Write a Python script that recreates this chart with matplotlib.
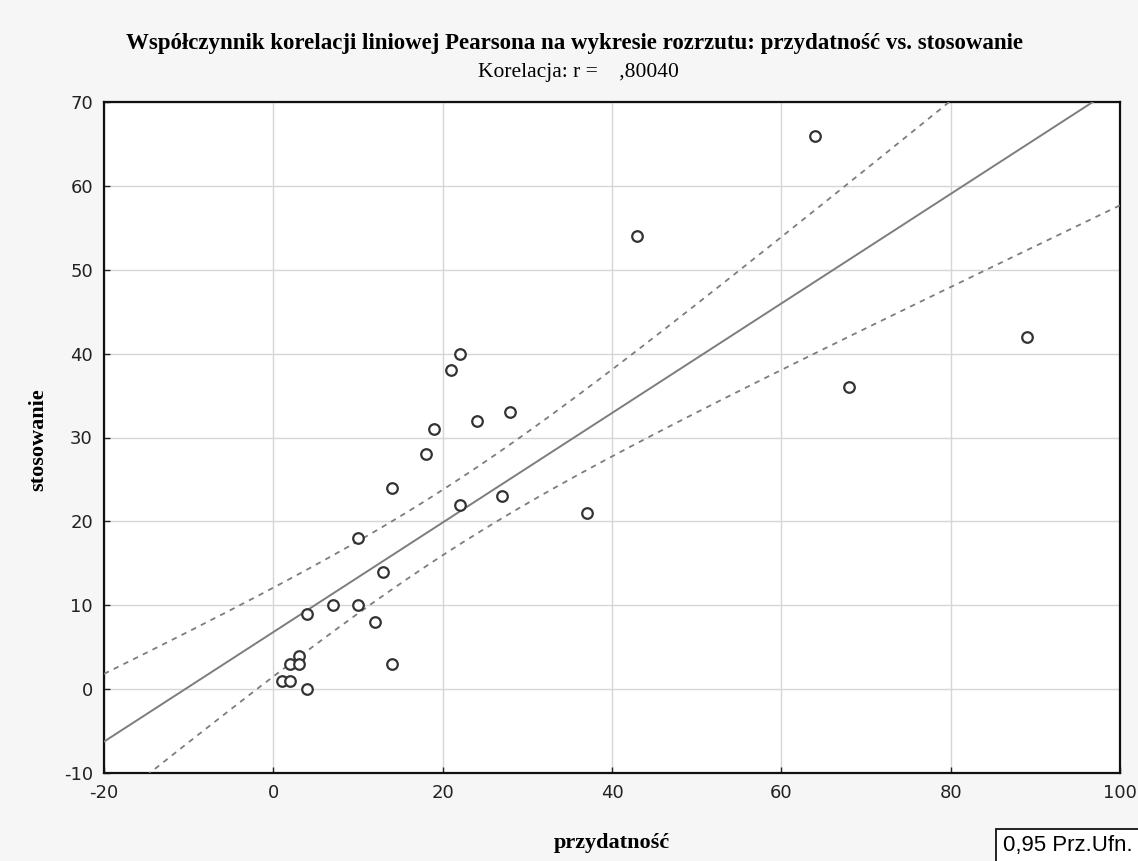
import numpy as np
import matplotlib
matplotlib.use("Agg")
import matplotlib.pyplot as plt
from matplotlib.patches import Rectangle

plt.rcParams["axes.unicode_minus"] = False

# Data
przydatnosc = [64, 43, 89, 68, 22, 21, 19, 28, 24, 18, 14, 27, 22, 37, 10,
               13, 7, 10, 4, 12, 14, 3, 2, 3, 1, 2, 4]
stosowanie = [66, 54, 42, 36, 40, 38, 31, 33, 32, 28, 24, 23, 22, 21, 18,
              14, 10, 10, 9, 8, 3, 4, 3, 3, 1, 1, 0]
x_ticks = [-20, 0, 20, 40, 60, 80, 100]
y_ticks = [-10, 0, 10, 20, 30, 40, 50, 60, 70]
title = "Współczynnik korelacji liniowej Pearsona na wykresie rozrzutu: przydatność vs. stosowanie"
subtitle = "Korelacja: r =    ,80040"
xlabel = "przydatność"
ylabel = "stosowanie"
legend_text = "0,95 Prz.Ufn."

# Regression line and 0.95 confidence band
reg_intercept = 6.8
reg_slope = 0.653
band_center_x = 20.5
band_min_halfwidth = 3.9
band_growth = 0.0305

xx = np.linspace(-20, 100, 400)
yy = reg_intercept + reg_slope * xx
half = np.sqrt(band_min_halfwidth ** 2 + band_growth * (xx - band_center_x) ** 2)
upper = yy + half
lower = yy - half

W, H = 1138, 861
fig = plt.figure(figsize=(W / 100, H / 100), dpi=100)
fig.patch.set_facecolor("#f6f6f6")
ax = fig.add_axes([104 / W, 1 - 773 / H, (1120 - 104) / W, (773 - 102) / H])
ax.set_facecolor("white")

line_col = "#7d7d7d"
ax.plot(xx, yy, color=line_col, lw=1.4, zorder=3)
ax.plot(xx, upper, color=line_col, lw=1.3, ls=(0, (3, 3)), zorder=3)
ax.plot(xx, lower, color=line_col, lw=1.3, ls=(0, (3, 3)), zorder=3)
ax.scatter(przydatnosc, stosowanie, s=58, facecolors="white", edgecolors="#333333",
           linewidths=1.6, zorder=4)

ax.set_xlim(-20, 100)
ax.set_ylim(-10, 70)
ax.set_xticks(x_ticks)
ax.set_yticks(y_ticks)
ax.grid(True, color="#d6d6d6", lw=1.0, zorder=0)
ax.set_axisbelow(True)
for sp in ax.spines.values():
    sp.set_linewidth(1.6)
    sp.set_color("#111111")
ax.tick_params(direction="in", length=4, width=1, labelsize=13, pad=8,
               colors="#222222")
for lbl in ax.get_xticklabels() + ax.get_yticklabels():
    lbl.set_family("DejaVu Sans")

fig.text(612 / W, 1 - 843 / H, xlabel, ha="center", va="center",
         family="Liberation Serif", fontweight="bold", fontsize=16)
fig.text(38 / W, 1 - 440 / H, ylabel, ha="center", va="center", rotation=90,
         family="Liberation Serif", fontweight="bold", fontsize=16)

fig.text(574 / W, 1 - 44 / H, title, ha="center", va="center", family="Liberation Serif",
         fontweight="bold", fontsize=16.5)
fig.text(578 / W, 1 - 72 / H, subtitle, ha="center", va="center", family="Liberation Serif",
         fontsize=15.5)

fig.patches.append(Rectangle((996 / W, 1 - 875 / H), 160 / W, 46 / H,
                             transform=fig.transFigure, facecolor="white",
                             edgecolor="#111111", lw=1.3))
fig.text(1003 / W, 1 - 846 / H, legend_text, ha="left", va="center",
         family="Liberation Sans", fontsize=16)

fig.savefig("out.png", dpi=100, facecolor=fig.get_facecolor())
